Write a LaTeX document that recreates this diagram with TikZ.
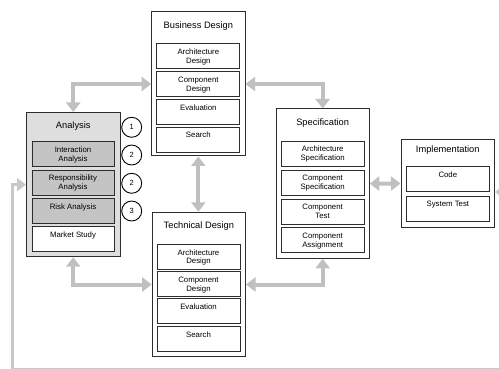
\documentclass[tikz,border=0pt]{standalone}
\usepackage{fontspec}
\setmainfont{Liberation Sans}
\usetikzlibrary{arrows.meta}
\definecolor{arrowgray}{RGB}{192,192,192}
\definecolor{loopgray}{RGB}{200,200,200}
\definecolor{boxline}{RGB}{45,45,45}
\definecolor{anafill}{RGB}{222,222,222}
\definecolor{anainner}{RGB}{196,196,196}
\begin{document}
\begin{tikzpicture}[x=1pt,y=-1pt,
  outerbox/.style={draw=boxline, line width=1pt, inner sep=0pt, fill=white, minimum width=93.3pt},
  inbox/.style={draw=boxline, line width=0.8pt, fill=white, minimum width=83pt, inner xsep=1pt, inner ysep=2pt, text height=9pt, text depth=12pt, align=center, font=\fontsize{7.8}{8.8}\selectfont},
  twoline/.style={text height=17.8pt, text depth=3.2pt},
  darkbox/.style={inbox, fill=anainner},
  titletext/.style={inner sep=0pt, font=\fontsize{9.3}{11}\selectfont},
  numcircle/.style={circle, draw=black, line width=0.9pt, fill=white, minimum size=20pt, inner sep=0pt, font=\fontsize{7.5}{9}\selectfont},
  flow/.style={draw=arrowgray, line width=4pt, {Triangle[width=14pt,length=9.5pt]}-{Triangle[width=14pt,length=9.5pt]}},
  loopline/.style={draw=loopgray, line width=3.5pt, {Triangle[width=13pt,length=9pt]}-{Triangle[width=13pt,length=9pt]}}
]
\useasboundingbox (0,0) rectangle (499,369);

% Analysis
\node[outerbox, fill=anafill, minimum width=93.5pt, minimum height=144.2pt] (analysis) at (73.25,184.6) {};
\node[titletext] (anatitle) at (73.25,126) {Analysis};
\node[darkbox, twoline, minimum width=82pt] (ana1) at (73,154.2) {Interaction\\Analysis};
\node[darkbox, twoline, minimum width=82pt] (ana2) at (73,182.5) {Responsibility\\Analysis};
\node[darkbox, minimum width=82pt] (ana3) at (73,210.8) {Risk Analysis};
\node[inbox, minimum width=82pt] (ana4) at (73,239.2) {Market Study};
\node[numcircle] (c1) at (131.7,127.3) {1};
\node[numcircle] (c2) at (131.7,155) {2};
\node[numcircle] (c3) at (131.7,183.3) {2};
\node[numcircle] (c4) at (131.7,211) {3};

% Business Design
\node[outerbox, minimum height=144pt] (business) at (198.35,84) {};
\node[titletext] (bustitle) at (198.35,26) {Business Design};
\node[inbox, twoline] (bus1) at (198.35,56) {Architecture\\Design};
\node[inbox, twoline] (bus2) at (198.35,84.2) {Component\\Design};
\node[inbox] (bus3) at (198.35,111.7) {Evaluation};
\node[inbox] (bus4) at (198.35,139.5) {Search};

% Technical Design
\node[outerbox, minimum height=144.4pt] (technical) at (198.85,284.5) {};
\node[titletext] (techtitle) at (198.85,226.3) {Technical Design};
\node[inbox, twoline] (tech1) at (198.5,256.5) {Architecture\\Design};
\node[inbox, twoline] (tech2) at (198.5,284) {Component\\Design};
\node[inbox] (tech3) at (198.5,311.3) {Evaluation};
\node[inbox] (tech4) at (198.5,339) {Search};

% Specification
\node[outerbox, minimum height=149.3pt] (spec) at (322.65,183.65) {};
\node[titletext] (spectitle) at (322.65,122.7) {Specification};
\node[inbox, twoline] (spec1) at (322.65,153.5) {Architecture\\Specification};
\node[inbox, twoline] (spec2) at (322.65,182.5) {Component\\Specification};
\node[inbox, twoline] (spec3) at (322.65,211.5) {Component\\Test};
\node[inbox, twoline] (spec4) at (322.65,240.3) {Component\\Assignment};

% Implementation
\node[outerbox, minimum width=93.5pt, minimum height=88.4pt] (impl) at (447.75,183.5) {};
\node[titletext] (impltitle) at (447.75,150) {Implementation};
\node[inbox, minimum width=82.3pt] (impl1) at (447.85,179.2) {Code};
\node[inbox, minimum width=82.3pt] (impl2) at (447.85,208.5) {System Test};

% Flows
\draw[flow] (analysis.north) |- (business.west);
\draw[flow] (business.east) -| (spec.north);
\draw[flow] (business.south) -- (business.south |- technical.north);
\draw[flow] (analysis.south) |- (technical.west);
\draw[flow] (technical.east) -| (spec.south);
\draw[flow] (spec.east) -- (impl.west);

% Feedback loop
\coordinate (fbR) at (507,192);
\coordinate (fbBR) at (507,369.9);
\coordinate (fbBL) at (12.3,369.9);
\draw[loopline] (impl.east |- fbR) -- (fbR) -- (fbBR) -- (fbBL) |- (analysis.west);
\end{tikzpicture}
\end{document}
